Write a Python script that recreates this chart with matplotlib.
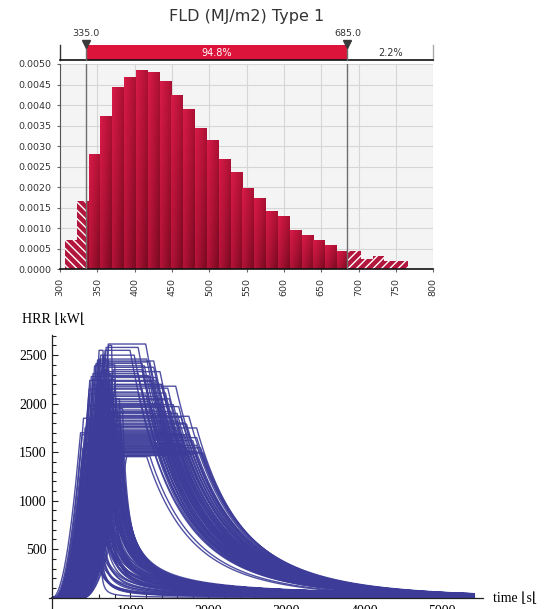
import numpy as np
import matplotlib
matplotlib.use("Agg")
import matplotlib.pyplot as plt
from matplotlib.colors import LinearSegmentedColormap
from matplotlib.patches import Rectangle

# ---------------- top chart: FLD histogram (probability density) ----------------
fld_title = "FLD (MJ/m2) Type 1"
fld_bin_start = 306.5
fld_bin_width = 15.85
fld_density = [0.000714, 0.001664, 0.002808, 0.003734, 0.00444, 0.004683, 0.004854,
               0.004805, 0.004594, 0.004245, 0.003904, 0.003442, 0.003149, 0.002687,
               0.00237, 0.00198, 0.001737, 0.001429, 0.0013, 0.000958, 0.000836,
               0.000714, 0.000593, 0.000446, 0.000446, 0.000252, 0.000325, 0.000203,
               0.000203]
fld_lo, fld_hi = 335.0, 685.0
fld_mid_pct = "94.8%"
fld_right_pct = "2.2%"
fld_xticks = [300, 350, 400, 450, 500, 550, 600, 650, 700, 750, 800]
fld_yticks = [0.0, 0.0005, 0.001, 0.0015, 0.002, 0.0025, 0.003, 0.0035, 0.004, 0.0045, 0.005]

# ---------------- bottom chart: HRR curves ----------------
# long fires: growth to a plateau, late and slow decay
long_qmax = [2615, 2550, 2460, 2430, 2415, 2375, 2330, 2310, 2270, 2230, 2195, 2180, 2150,
             2110, 2075, 2050, 2020, 1990, 1960, 1935, 1900, 1880, 1860, 1830, 1800, 1780,
             1765, 1750, 1730, 1700, 1680, 1660, 1640, 1620, 1600, 1590, 1570, 1555, 1540,
             1520, 1500, 1490, 1480, 1470, 1460, 1454,
             2500, 2390, 2290, 2240, 2160, 2090, 2000, 1970, 1920, 1850, 1790, 1720, 1690,
             1650, 1610, 1580, 1530, 1510,
             2580, 2440, 2350, 2280, 2200, 2120, 2040, 1980, 1910, 1870, 1820, 1760, 1710,
             1670, 1630, 1560, 1545, 1510, 1495, 1465]
long_start = [340, 300, 250, 280, 200, 320, 260, 150, 350, 220, 380, 300, 100, 330, 240, 400,
              180, 360, 280, 120, 390, 260, 330, 200, 380, 60, 300, 150, 350, 230, 400, 280,
              100, 360, 200, 320, 390, 250, 150, 340, 300, 400, 380, 395, 200, 350,
              280, 180, 320, 100, 260, 360, 220, 300, 160, 380, 240, 330, 140, 360, 260, 60,
              300, 200,
              320, 220, 360, 120, 280, 200, 340, 80, 260, 360, 160, 300, 380, 220, 40, 340,
              260, 380, 120, 300]
long_tpeak = [718, 676, 603, 640, 560, 700, 610, 520, 760, 590, 800, 720, 470, 740, 650, 820,
              560, 780, 680, 500, 840, 660, 760, 610, 860, 440, 730, 483, 800, 640, 880, 700,
              520, 820, 600, 760, 900, 680, 560, 800, 750, 920, 900, 954, 640, 860,
              650, 540, 720, 480, 640, 760, 600, 700, 540, 820, 660, 760, 520, 840, 700, 460,
              780, 620,
              690, 590, 780, 500, 670, 580, 740, 460, 640, 800, 560, 720, 860, 620, 420, 800,
              700, 880, 540, 760]
long_tend = [1197, 996, 1210, 1250, 1150, 1300, 1380, 1100, 1330, 1280, 1400, 1582, 1150,
             1450, 1350, 1500, 1250, 1550, 1420, 1300, 1600, 1480, 1650, 1380, 1700, 1300,
             1550, 1850, 1600, 1450, 1750, 1500, 1400, 1800, 1550, 1650, 1850, 1700, 1450,
             1750, 1900, 1936, 1800, 1600, 1250, 1210,
             1050, 1180, 1230, 1320, 1480, 1200, 1380, 1620, 1520, 1350, 1720, 1400, 1650,
             1850, 1300, 1600, 1500, 1820,
             1100, 1300, 1150, 1250, 1400, 1100, 1450, 1350, 1250, 1750, 1600, 1300, 1550,
             1700, 1500, 1350, 1900, 1650, 1400, 1750]
long_tau = [2900, 2800, 2950, 3000, 2800, 3100, 2950, 2850, 3000, 2950, 3100, 3100, 2800,
            3100, 2950, 3200, 2850, 3150, 3000, 2900, 3200, 3050, 3200, 3000, 3250, 2900,
            3100, 3000, 3200, 3050, 3250, 3100, 3000, 3200, 3150, 3200, 3200, 3250, 3100,
            3250, 3200, 3200, 3250, 3200, 2950, 2900,
            2850, 2900, 2950, 3000, 3100, 2900, 3000, 3150, 3100, 2950, 3200, 3000, 3150,
            3200, 2950, 3100, 3050, 3200,
            2900, 3000, 2900, 2950, 3050, 2850, 3100, 3000, 2950, 3200, 3150, 2950, 3100,
            3200, 3100, 3000, 3200, 3150, 3000, 3200]
long_power = 5

# short fires: brief peak, early decay with a long thin tail
short_qmax = [1500, 1460, 1600, 1550, 2300, 2000, 1500, 1800, 2100, 1700, 1900, 2400, 1650,
              1750, 2200, 1580, 1850, 2050, 1620, 1950, 1720, 2250, 1520, 1680, 1880, 2150,
              1560, 1780, 2000, 1600, 1700, 1900, 1480, 2350, 1640, 1820, 1540, 2080, 1760,
              1660, 2550, 2450, 1350, 1400, 1420, 1380, 2600, 1950, 2200, 1750, 1500, 1850,
              2300, 1450, 2100, 1600, 1700, 2000, 1550, 1900, 1350, 2400, 1650, 1800,
              1800, 1500, 2200, 2500, 1400, 1650, 1950, 1750, 2050, 1600, 1850, 2350, 1450,
              1700, 2150, 1550, 1900, 1380, 2000, 1620, 2450, 1780, 1480, 2250, 1680, 1520,
              1920, 1580, 2100, 1720]
short_start = [350, 380, 300, 250, 200, 150, 100, 320, 260, 180, 340, 300, 60, 120, 220, 280,
               40, 360, 200, 100, 260, 140, 330, 20, 240, 300, 160, 360, 200, 80, 300, 180,
               240, 260, 120, 340, 30, 280, 220, 380, 240, 320, 200, 300, 100, 360, 340, 380,
               150, 60, 260, 120, 280, 180, 200, 340, 0, 320, 140, 260, 240, 180, 300, 80,
               300, 360, 220, 260, 200, 340, 280, 120, 320, 240, 180, 300, 380, 60, 140, 280,
               360, 100, 240, 320, 200, 260, 160, 340, 200, 40, 300, 380, 100, 280]
short_tpeak = [860, 880, 800, 700, 620, 560, 460, 720, 660, 540, 760, 700, 420, 480, 600, 680,
               400, 780, 580, 500, 640, 520, 760, 380, 640, 700, 520, 800, 580, 440, 680, 560,
               600, 640, 500, 760, 390, 660, 600, 820, 600, 680, 540, 660, 440, 780, 720, 840,
               520, 420, 620, 500, 660, 520, 560, 720, 360, 700, 480, 620, 600, 560, 700, 460,
               700, 820, 600, 620, 560, 760, 660, 500, 720, 640, 560, 680, 840, 440, 520, 680,
               800, 480, 620, 740, 580, 640, 540, 740, 600, 400, 700, 860, 480, 700]
short_tend = [870, 890, 860, 840, 750, 600, 615, 800, 780, 700, 840, 800, 520, 560, 680, 760,
              470, 860, 640, 620, 720, 640, 820, 500, 700, 760, 580, 880, 720, 540, 740, 660,
              700, 700, 560, 820, 560, 780, 660, 880, 650, 720, 620, 760, 560, 840, 760, 900,
              560, 580, 680, 600, 720, 620, 620, 780, 590, 740, 540, 680, 660, 600, 780, 520,
              800, 850, 700, 650, 600, 860, 720, 620, 780, 740, 640, 720, 880, 560, 600, 760,
              860, 580, 660, 820, 620, 700, 640, 800, 680, 500, 760, 900, 560, 780]
short_tau = [128, 120, 112, 118, 82, 100, 4.3, 102, 88, 105, 95, 76, 56, 75, 85, 120, 38, 84,
             68, 45, 113, 34, 120, 22, 75, 87, 26, 92, 60, 19, 112, 52, 90, 68, 41, 99, 17,
             79, 49, 105, 45, 64, 112, 137, 94, 132, 56, 70, 22, 15, 56, 30, 45, 75, 38, 117,
             13, 52, 34, 41, 101, 30, 113, 20,
             102, 120, 85, 80, 125, 107, 85, 100, 89, 120, 90, 75, 122, 80, 70, 122, 92, 115,
             65, 112, 60, 88, 115, 81, 92, 60, 80, 100, 50, 108]
short_power = 1

hrr_xticks = [1000, 2000, 3000, 4000, 5000]
hrr_yticks = [500, 1000, 1500, 2000, 2500]
t_end = 5400


def hrr(t, t0, tp, qmax, te, tau, k):
    q = np.zeros_like(t)
    g = (t > t0) & (t < tp)
    q[g] = qmax * ((t[g] - t0) / (tp - t0)) ** 2
    q[(t >= tp) & (t <= te)] = qmax
    d = t > te
    q[d] = qmax * (1 + (t[d] - te) / tau) ** (-k)
    return q


W, H = 549, 609
fig = plt.figure(figsize=(W / 100, H / 100), dpi=100)

# ---------- histogram ----------
ax = fig.add_axes([60 / W, 1 - 269.3 / H, 373.3 / W, 205.3 / H])
ax.set_facecolor("#f4f4f4")
ax.set_axisbelow(True)
ax.grid(color="#d6d6d6", lw=0.8)

cm = LinearSegmentedColormap.from_list("fld", ["#d81a48", "#b01236", "#7a0a22"])
gx = np.linspace(0, 1, 16)
gy = np.linspace(0, 1, 40)
grad = 0.55 * gx[None, :] + 0.45 * (1 - gy[:, None])

for i, d in enumerate(fld_density):
    x0 = fld_bin_start + i * fld_bin_width
    x1 = x0 + fld_bin_width
    if x0 < fld_lo:
        ax.add_patch(Rectangle((x0, 0), min(x1, fld_lo) - x0, d, facecolor="#b3163c",
                               edgecolor="white", lw=0, hatch="\\\\\\\\", zorder=2))
    if x1 > fld_hi:
        a = max(x0, fld_hi)
        ax.add_patch(Rectangle((a, 0), x1 - a, d, facecolor="#b3163c",
                               edgecolor="white", lw=0, hatch="////", zorder=2))
    a, b = max(x0, fld_lo), min(x1, fld_hi)
    if b > a:
        r = Rectangle((a, 0), b - a, d, facecolor="#b01236", lw=0, zorder=2)
        ax.add_patch(r)
        im = ax.imshow(grad, extent=(a, b, 0, d), origin="lower", aspect="auto",
                       cmap=cm, vmin=0, vmax=1, zorder=2.1, interpolation="bilinear")
        im.set_clip_path(r)

for v in (fld_lo, fld_hi):
    ax.axvline(v, color="#6e6e6e", lw=1, zorder=4)

ax.set_xlim(300, 800)
ax.set_ylim(0, 0.005)
ax.set_xticks(fld_xticks)
ax.set_xticklabels([str(v) for v in fld_xticks], rotation=90)
ax.set_yticks(fld_yticks)
ax.set_yticklabels([f"{v:.4f}" for v in fld_yticks])
ax.tick_params(axis="both", labelsize=6.8, labelcolor="#333333", color="#666666",
               length=2.5, width=0.8, pad=3.5)
for s in ("top", "right"):
    ax.spines[s].set_visible(False)
ax.spines["left"].set_color("#555555")
ax.spines["bottom"].set_color("#111111")
ax.spines["bottom"].set_linewidth(1.2)

# band with percentages
bax = fig.add_axes([60 / W, 1 - 60.3 / H, 373.3 / W, 15.3 / H])
bax.set_xlim(300, 800)
bax.set_ylim(0, 1)
bax.axis("off")
bax.add_patch(Rectangle((fld_lo, 0), fld_hi - fld_lo, 1, facecolor="#dc143c", lw=0))
bax.plot([300, 300], [0, 1], color="#333333", lw=1, clip_on=False)
bax.plot([800, 800], [0, 1], color="#aaaaaa", lw=1, clip_on=False)
bax.plot([300, 800], [0, 0], color="#111111", lw=1.2, clip_on=False)
for v in (fld_lo, fld_hi):
    bax.plot([v, v], [0, 1], color="#6e6e6e", lw=1, clip_on=False)
    bax.plot([v], [1.05], marker="v", ms=6, color="#3a3a3a", ls="none", clip_on=False)
    bax.text(v, 1.72, f"{v:.1f}", ha="center", va="center", fontsize=6.8,
             color="#333333", clip_on=False)
bax.text((fld_lo + fld_hi) / 2, 0.47, fld_mid_pct, ha="center", va="center",
         fontsize=7, color="white")
bax.text((fld_hi + 800) / 2, 0.47, fld_right_pct, ha="center", va="center",
         fontsize=7, color="#333333")

fig.text(246.5 / W, 1 - 16 / H, fld_title, ha="center", va="center", fontsize=11.5,
         color="#333333")

# ---------- HRR curves ----------
bx = fig.add_axes([49.2 / W, 0, 433.7 / W, 274.2 / H])
t = np.linspace(0, t_end, 2701)
col = "#3d3d99"
for i in range(len(long_qmax)):
    bx.plot(t, hrr(t, long_start[i], long_tpeak[i], long_qmax[i], long_tend[i],
                   long_tau[i], long_power), color=col, lw=1.0, alpha=0.9)
for i in range(len(short_qmax)):
    bx.plot(t, hrr(t, short_start[i], short_tpeak[i], short_qmax[i], short_tend[i],
                   short_tau[i], short_power), color=col, lw=1.0, alpha=0.9)

bx.set_xlim(-40, 5520)
bx.set_ylim(-116.5, 2710)
bx.set_facecolor("none")
for s in ("top", "right"):
    bx.spines[s].set_visible(False)
for s in ("left", "bottom"):
    bx.spines[s].set_position(("data", 0))
    bx.spines[s].set_color("#222222")
    bx.spines[s].set_linewidth(0.9)
bx.set_xticks(hrr_xticks)
bx.set_yticks(hrr_yticks)
bx.set_xticks([v for v in range(200, 5401, 200) if v % 1000], minor=True)
bx.set_yticks([v for v in range(100, 2701, 100) if v % 500], minor=True)
serif = ["Liberation Serif", "DejaVu Serif", "DejaVu Sans"]
for lab in bx.get_xticklabels() + bx.get_yticklabels():
    lab.set_family(serif)
bx.tick_params(which="both", direction="in", color="#222222", width=0.8, labelsize=10)
bx.tick_params(which="major", length=4.5)
bx.tick_params(which="minor", length=2.8)
bx.tick_params(axis="x", pad=5)
bx.tick_params(axis="y", pad=4)

fig.text(21.7 / W, 1 - 320 / H, "HRR \u230AkW\u230A", ha="left", va="center",
         fontsize=10, family=serif)
fig.text(493 / W, 1 - 598.5 / H, "time \u230As\u230A", ha="left", va="center",
         fontsize=10, family=serif)

fig.savefig("out.png", dpi=100)
